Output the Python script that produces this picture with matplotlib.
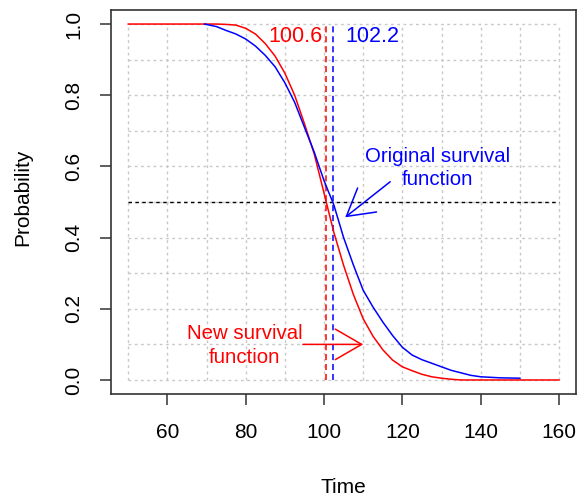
import numpy as np
import matplotlib
matplotlib.use('Agg')
import matplotlib.pyplot as plt

plt.rcParams['font.family'] = ['Liberation Sans', 'DejaVu Sans']

# survival curves
t_new = [50, 72.5, 75, 77.5, 80, 82.5, 85, 87.5, 90, 92.5, 95, 97.5, 100, 102.5, 105,
         107.5, 110, 112.5, 115, 117.5, 120, 122.5, 125, 127.5, 130, 132.5, 135, 160]
s_new = [1.0, 1.0, 0.999, 0.997, 0.988, 0.972, 0.945, 0.91, 0.862, 0.80, 0.72, 0.635, 0.525,
         0.415, 0.322, 0.24, 0.172, 0.123, 0.085, 0.056, 0.037, 0.026, 0.016, 0.009, 0.005,
         0.002, 0.0, 0.0]

t_orig = [69.5, 72.5, 75, 77.5, 80, 82.5, 85, 87.5, 90, 92.5, 95, 97.5, 100, 102.5, 105,
          107.5, 110, 112.5, 115, 117.5, 120, 122.5, 125, 127.5, 130, 132.5, 135, 137.5,
          140, 145, 150]
s_orig = [1.0, 0.993, 0.982, 0.972, 0.958, 0.938, 0.912, 0.88, 0.835, 0.78, 0.71, 0.64, 0.56,
          0.492, 0.40, 0.323, 0.252, 0.205, 0.163, 0.125, 0.092, 0.07, 0.057, 0.047, 0.037,
          0.027, 0.02, 0.013, 0.009, 0.006, 0.005]

median_new = 100.6
median_orig = 102.2

xticks = [60, 80, 100, 120, 140, 160]
yticks = [0.0, 0.2, 0.4, 0.6, 0.8, 1.0]
grid_x = list(range(50, 161, 10))
grid_y = [i / 10 for i in range(11)]

# annotation anchors (data coords)
orig_text_xy = (129.1, 0.595)
orig_arrow_from = (116.9, 0.557)
orig_arrow_to = (105.4, 0.457)
new_text_xy = (79.7, 0.097)
new_arrow_from = (94.6, 0.10)
new_arrow_to = (110.0, 0.10)

fig = plt.figure(figsize=(5.79, 4.98), dpi=100)
ax = fig.add_axes([0.1917, 0.2084, 0.8035, 0.7719])

# grid over data range only
gcol = '#c8c8c8'
ax.vlines(grid_x, 0, 1, colors=gcol, linewidth=1, linestyles=(0, (2, 2.5)), zorder=1)
ax.hlines(grid_y, 50, 160, colors=gcol, linewidth=1, linestyles=(0, (2, 2.5)), zorder=1)

ax.plot(t_new, s_new, color='red', linewidth=1.1, zorder=3)
ax.plot(t_orig, s_orig, color='blue', linewidth=1.1, zorder=3)

ax.hlines(0.5, 50, 160, colors='black', linewidth=1, linestyles=(0, (2.5, 2.5)), zorder=2)
ax.vlines(median_new, 0, 1, colors='red', linewidth=1.1, linestyles=(0, (4, 2.5)), zorder=2)
ax.vlines(median_orig, 0, 1, colors='blue', linewidth=1.1, linestyles=(0, (4, 2.5)), zorder=2)

ax.text(92.8, 0.966, '%.1f' % median_new, color='red', fontsize=15.5, ha='center', va='center')
ax.text(112.4, 0.966, '%.1f' % median_orig, color='blue', fontsize=15.5, ha='center', va='center')

ax.text(orig_text_xy[0], orig_text_xy[1], 'Original survival\nfunction', color='blue',
        fontsize=14.7, ha='center', va='center', linespacing=1.3)
ax.text(new_text_xy[0], new_text_xy[1], 'New survival\nfunction', color='red',
        fontsize=14.7, ha='center', va='center', linespacing=1.3)

head = '->,head_length=1.9,head_width=1.1'
ax.annotate('', xy=orig_arrow_to, xytext=orig_arrow_from,
            arrowprops=dict(arrowstyle=head, color='blue',
                            lw=1.1, shrinkA=0, shrinkB=0, mutation_scale=10))
ax.annotate('', xy=new_arrow_to, xytext=new_arrow_from,
            arrowprops=dict(arrowstyle=head, color='red',
                            lw=1.1, shrinkA=0, shrinkB=0, mutation_scale=10))

ax.set_xlim(45.6, 164.4)
ax.set_ylim(-0.04, 1.04)
ax.set_xticks(xticks)
ax.set_yticks(yticks)
ax.set_yticklabels(['%.1f' % v for v in yticks], rotation=90, va='center')
ax.tick_params(axis='both', length=8, width=1.1, labelsize=15, color='#333333')
ax.tick_params(axis='x', pad=13)
ax.tick_params(axis='y', pad=12)
for sp in ax.spines.values():
    sp.set_linewidth(1.2)
    sp.set_color('#333333')

ax.set_xlabel('Time', fontsize=15)
ax.set_ylabel('Probability', fontsize=15)
ax.xaxis.set_label_coords(0.5 * (343 - 111) / 232.6, -0.2414)
ax.xaxis.label.set_va('center')
ax.yaxis.set_label_coords(-0.189, (394.2 - 197) / 384.4)
ax.yaxis.label.set_va('center')

fig.savefig('out.png', dpi=100)
